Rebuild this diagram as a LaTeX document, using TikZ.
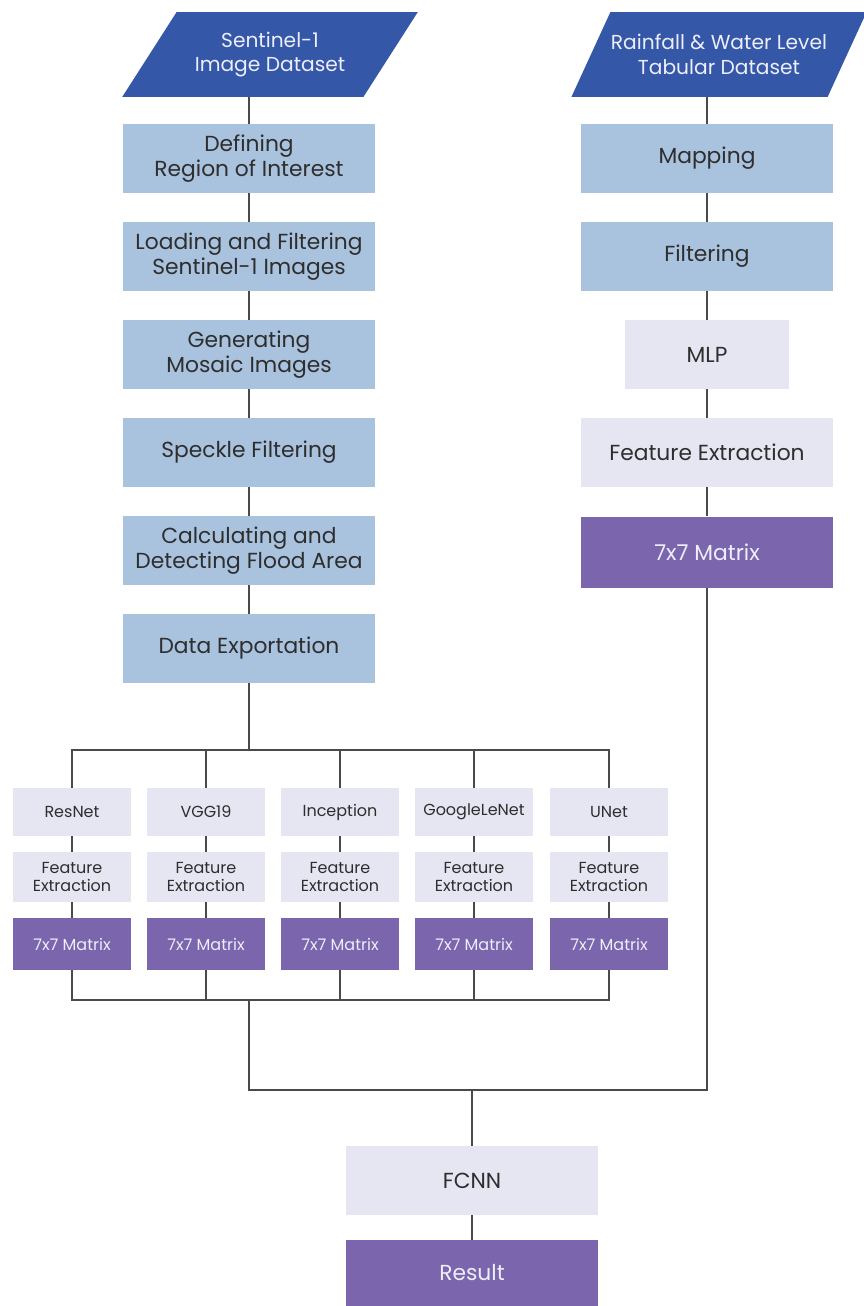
\documentclass[tikz,border=0pt]{standalone}
\usepackage{fontspec}
\setmainfont{Poppins}
\usetikzlibrary{positioning, shapes.geometric}
\definecolor{fldeep}{HTML}{3457A8}
\definecolor{flsky}{HTML}{A9C2DE}
\definecolor{fllav}{HTML}{E6E6F3}
\definecolor{flpurp}{HTML}{7B66AE}
\definecolor{flline}{HTML}{4A4A4A}
\definecolor{flink}{HTML}{2E2E2E}
\definecolor{flpale}{HTML}{EDEEF8}

\begin{document}
\begin{tikzpicture}[x=0.02cm, y=-0.02cm, font=\fontsize{12.4}{14.4}\selectfont,
      ds/.style={trapezium, trapezium left angle=46, trapezium right angle=134, trapezium stretches=true,
                 fill=fldeep, text=flpale, font=\fontsize{11.5}{14}\selectfont,
                 minimum width=5.92cm, minimum height=1.7cm, align=center, inner sep=0pt},
      pre/.style={fill=flsky, text=flink, minimum width=5.06cm, minimum height=1.38cm, align=center, inner sep=0pt},
      lv/.style={fill=fllav, text=flink, minimum width=5.06cm, minimum height=1.38cm, align=center, inner sep=0pt},
      mx/.style={fill=flpurp, text=flpale, minimum width=5.06cm, minimum height=1.42cm, align=center, inner sep=0pt},
      sm/.style={fill=fllav, text=flink, font=\fontsize{9.1}{10.4}\selectfont, minimum width=2.36cm, align=center, inner sep=0pt},
      smx/.style={fill=flpurp, text=flpale, font=\fontsize{9.1}{10.4}\selectfont, minimum width=2.36cm, minimum height=1.04cm, inner sep=0pt},
      ln/.style={draw=flline, line width=0.8pt}]
      \useasboundingbox (0,0) rectangle (864,1306);

      \node[ds] (src1) at (270,54.5) {Sentinel-1\\Image Dataset};
      \node[ds] (src2) at (719,54.5) {Rainfall \& Water Level\\Tabular Dataset};

      \node[pre] (roi) at (249,158.5) {Defining\\Region of Interest};
      \node[pre] (load) at (249,256.5) {Loading and Filtering\\Sentinel-1 Images};
      \node[pre] (mos) at (249,354.5) {Generating\\Mosaic Images};
      \node[pre] (spk) at (249,452.5) {Speckle Filtering};
      \node[pre] (flood) at (249,550.5) {Calculating and\\Detecting Flood Area};
      \node[pre] (exp) at (249,648.5) {Data Exportation};

      \node[pre] (map) at (707,158.5) {Mapping};
      \node[pre] (filt) at (707,256.5) {Filtering};
      \node[lv, minimum width=3.3cm] (mlp) at (707,354.5) {MLP};
      \node[lv] (rfe) at (707,452.5) {Feature Extraction};
      \node[mx] (rmat) at (707,552) {7x7 Matrix};

      \draw[ln] (roi.north) -- (roi.north |- src1.south);
      \draw[ln] (map.north) -- (map.north |- src2.south);
      \foreach \a/\b in {roi/load, load/mos, mos/spk, spk/flood, flood/exp, map/filt, filt/mlp, mlp/rfe, rfe/rmat}
        \draw[ln] (\a) -- (\b);

      \coordinate (bt) at (249,750);
      \coordinate (bb) at (249,1000);
      \coordinate (jn) at (249,1090);
      \draw[ln] (exp) -- (bt);
      \foreach \x/\n [count=\i] in {72/ResNet, 206/VGG19, 340/Inception, 474/GoogleLeNet, 609/UNet} {
        \node[sm, minimum height=0.96cm] (m\i) at (\x,812) {\n};
        \node[sm, minimum height=1.0cm] (fe\i) at (\x,877) {Feature\\Extraction};
        \node[smx] (mt\i) at (\x,944) {7x7 Matrix};
        \draw[ln] (m\i.north) |- (bt);
        \draw[ln] (m\i) -- (fe\i);
        \draw[ln] (fe\i) -- (mt\i);
        \draw[ln] (mt\i.south) |- (bb);
      }

      \node[lv] (fcnn) at (472,1180.5) {FCNN};
      \node[mx, minimum height=1.32cm] (res) at (472,1273) {Result};
      \draw[ln] (bb) -- (jn) -| (rmat.south);
      \draw[ln] (fcnn.north) -- (fcnn.north |- jn);
      \draw[ln] (fcnn) -- (res);
\end{tikzpicture}
\end{document}
